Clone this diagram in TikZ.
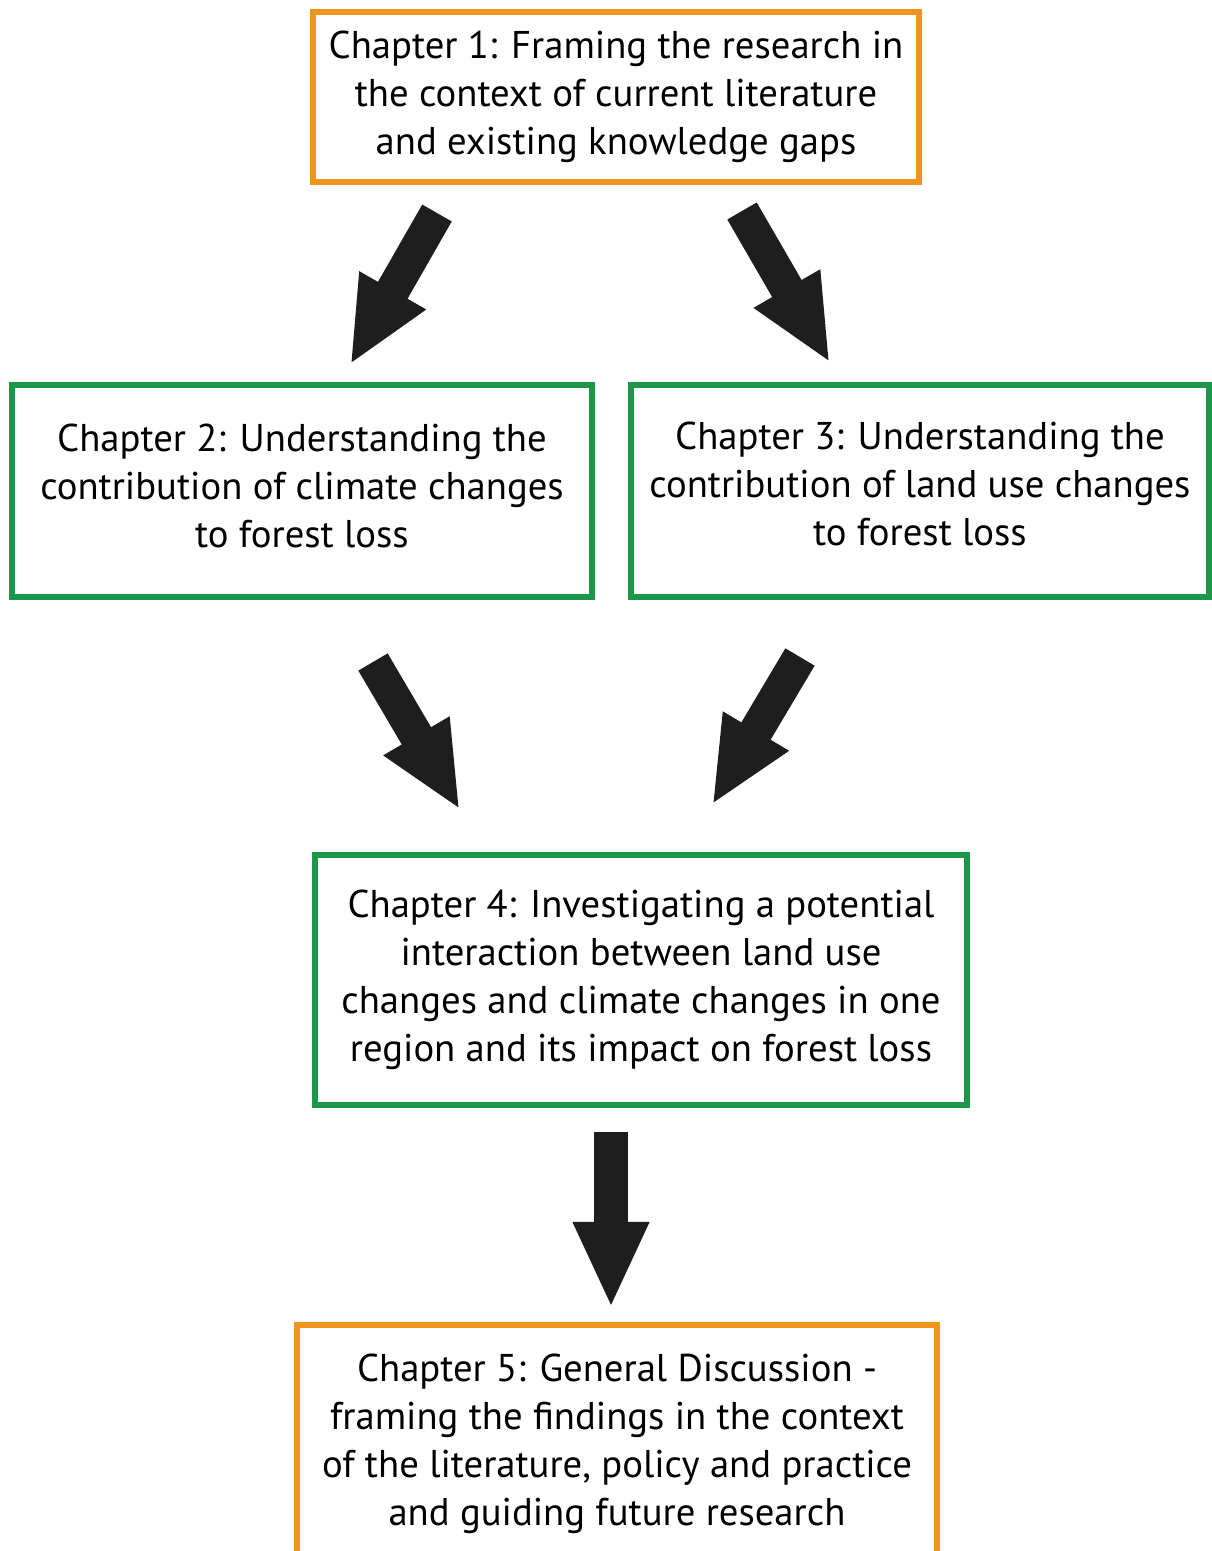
\documentclass[tikz,border=0pt]{standalone}
\usepackage{fontspec}
\setmainfont{PT Sans}
\usetikzlibrary{arrows.meta}
\definecolor{chorange}{RGB}{239,149,31}
\definecolor{chgreen}{RGB}{28,150,72}
\definecolor{arrowblack}{RGB}{30,30,30}

\begin{document}
\begin{tikzpicture}[x=0.01cm,y=-0.01cm,
  chapbox/.style={draw,line width=0.06cm,align=center,inner sep=0pt,font=\fontsize{11}{13.66}\selectfont},
  orangebox/.style={chapbox,draw=chorange},
  greenbox/.style={chapbox,draw=chgreen},
  blockarrow/.style={draw=arrowblack,line width=0.34cm,-{Triangle[length=0.86cm,width=0.70cm]}}]
	\useasboundingbox (0,0) rectangle (1212,1551);              %page size of the figure.
	
	% Chapter boxes
	\node[orangebox,minimum width=6.06cm,minimum height=1.69cm] (ch1) at (616,97) {Chapter 1: Framing the research in\\the context of current literature\\and existing knowledge gaps};
	\node[greenbox,minimum width=5.79cm,minimum height=2.12cm,text depth=0.1cm] (ch2) at (302,491) {Chapter 2: Understanding the\\contribution of climate changes\\to forest loss};
	\node[greenbox,minimum width=5.78cm,minimum height=2.12cm,text depth=0.14cm] (ch3) at (920,491) {Chapter 3: Understanding the\\contribution of land use changes\\to forest loss};
	\node[greenbox,minimum width=6.51cm,minimum height=2.49cm] (ch4) at (641,980) {Chapter 4: Investigating a potential\\interaction between land use\\changes and climate changes in one\\region and its impact on forest loss};
	\node[orangebox,minimum width=6.40cm,minimum height=2.38cm] (ch5) at (617,1444) {Chapter 5: General Discussion -\\framing the findings in the context\\of the literature, policy and practice\\and guiding future research};
	
	% Arrow ends (tail, tip).
	\coordinate (a12s) at (437,213);
	\coordinate (a12e) at (350,365);
	\coordinate (a13s) at (742,211);
	\coordinate (a13e) at (830,363);
	\coordinate (a24s) at (373,662);
	\coordinate (a24e) at (460,810);
	\coordinate (a34s) at (800,657);
	\coordinate (a34e) at (712,805);
	\coordinate (a45s) at (611,1132);
	\coordinate (a45e) at (611,1308);
	
	% Block arrows
	\draw[blockarrow] (a12s) -- (a12e);
	\draw[blockarrow] (a13s) -- (a13e);
	\draw[blockarrow] (a24s) -- (a24e);
	\draw[blockarrow] (a34s) -- (a34e);
	\draw[blockarrow] (a45s) -- (a45e);
\end{tikzpicture}
\end{document}
